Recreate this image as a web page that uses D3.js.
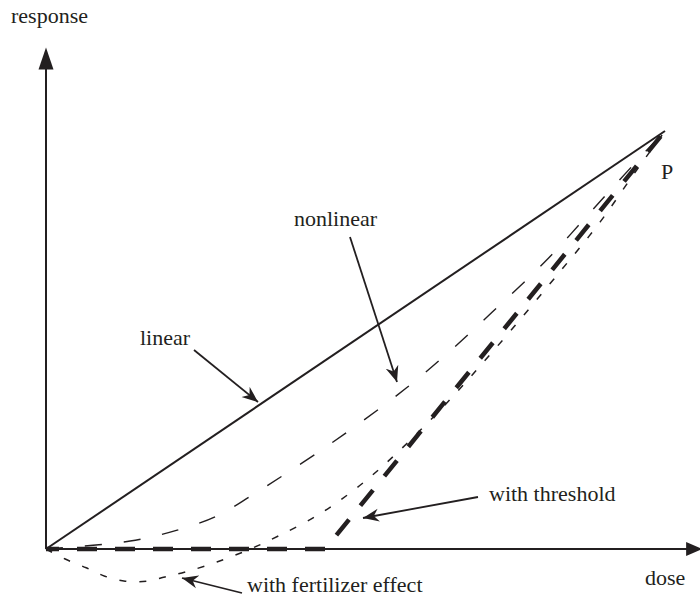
<!DOCTYPE html>
<html>
<head>
<meta charset="utf-8">
<script src="https://cdn.jsdelivr.net/npm/d3@7"></script>
<style>
  body { margin: 0; background: #fff; }
  svg { display: block; }
  text { font-family: "Liberation Serif", "Times New Roman", serif; font-size: 22px; fill: #231f20; }
</style>
</head>
<body>
<svg></svg>
<script>
// dose / response, scaled so that point P = (1, 1)
let linearDose = [0, 1]
let linearResponse = [0, 1]

let nonlinearDose = [0, 0.136, 0.212, 0.276, 0.331, 0.459, 0.582, 0.653, 0.721, 0.806, 0.890, 0.968, 1]
let nonlinearResponse = [0, 0.019, 0.045, 0.079, 0.127, 0.251, 0.385, 0.474, 0.567, 0.687, 0.823, 0.950, 1]

let thresholdDose = [0, 0.451, 1]
let thresholdResponse = [0, 0, 1]

let fertDose = [0, 0.031, 0.065, 0.095, 0.128, 0.162, 0.192, 0.225, 0.276, 0.330, 0.378, 0.439, 0.493, 0.546, 0.637, 0.725, 0.830, 0.895, 0.952, 1]
let fertResponse = [0, -0.024, -0.045, -0.065, -0.077, -0.077, -0.067, -0.055, -0.031, 0, 0.033, 0.081, 0.136, 0.201, 0.333, 0.478, 0.663, 0.782, 0.902, 1]

let axisMaxDose = 1.06
let axisMaxResponse = 1.2

let width = 700
let height = 607

let svg = d3.select('svg').attr('width', width).attr('height', height)

let xScale = d3.scaleLinear().domain([0, 1]).range([46, 665])
let yScale = d3.scaleLinear().domain([0, 1]).range([549, 131])

let toPoints = (xs, ys) => xs.map((d, i) => [d, ys[i]])

let defs = svg.append('defs')

defs.append('marker')
  .attr('id', 'head')
  .attr('markerUnits', 'userSpaceOnUse')
  .attr('viewBox', '-16 -7 17 14')
  .attr('markerWidth', 17)
  .attr('markerHeight', 14)
  .attr('refX', 0)
  .attr('refY', 0)
  .attr('orient', 'auto')
  .append('path')
  .attr('d', 'M0,0 L-16,-6.5 L-11,0 L-16,6.5 Z')
  .attr('fill', '#231f20')

let drawAxes = () => {
  let ink = '#231f20'
  svg.append('line')
    .attr('x1', xScale(0)).attr('y1', yScale(0))
    .attr('x2', xScale(axisMaxDose)).attr('y2', yScale(0))
    .attr('stroke', ink).attr('stroke-width', 2)

  svg.append('line')
    .attr('x1', xScale(0)).attr('y1', yScale(0))
    .attr('x2', xScale(0)).attr('y2', yScale(axisMaxResponse) + 10)
    .attr('stroke', ink).attr('stroke-width', 2)

  // arrow heads
  let tipY = yScale(axisMaxResponse)
  let cx = xScale(0)
  svg.append('path')
    .attr('d', `M${cx},${tipY} L${cx - 7.5},${tipY + 22} L${cx + 7.5},${tipY + 22} Z`)
    .attr('fill', ink)

  let tipX = xScale(axisMaxDose)
  let cy = yScale(0)
  svg.append('path')
    .attr('d', `M${tipX},${cy} L${tipX - 16},${cy - 7} L${tipX - 16},${cy + 7} Z`)
    .attr('fill', ink)

  svg.append('text').attr('x', 11).attr('y', 23).text('response')
  svg.append('text').attr('x', 645).attr('y', 585).text('dose')
}

let drawCurves = () => {
  let line = d3.line()
    .x(d => xScale(d[0]))
    .y(d => yScale(d[1]))

  let smooth = d3.line()
    .x(d => xScale(d[0]))
    .y(d => yScale(d[1]))
    .curve(d3.curveCatmullRom.alpha(0.5))

  svg.append('path')
    .datum(toPoints(nonlinearDose, nonlinearResponse))
    .attr('d', smooth)
    .attr('fill', 'none')
    .attr('stroke', '#231f20')
    .attr('stroke-width', 1.4)
    .attr('stroke-dasharray', '17,22')

  svg.append('path')
    .datum(toPoints(fertDose, fertResponse))
    .attr('d', smooth)
    .attr('fill', 'none')
    .attr('stroke', '#231f20')
    .attr('stroke-width', 1.5)
    .attr('stroke-dasharray', '7,13')

  svg.append('path')
    .datum(toPoints(thresholdDose, thresholdResponse))
    .attr('d', line)
    .attr('fill', 'none')
    .attr('stroke', '#231f20')
    .attr('stroke-width', 4.5)
    .attr('stroke-dasharray', '20,18')
    .attr('stroke-dashoffset', 7)

  svg.append('path')
    .datum(toPoints(linearDose, linearResponse))
    .attr('d', line)
    .attr('fill', 'none')
    .attr('stroke', '#231f20')
    .attr('stroke-width', 2)

  svg.append('text').attr('x', 661).attr('y', 179).text('P')
}

let labels = [
  { text: 'linear', x: 140, y: 345, from: [194, 350], to: [258, 402] },
  { text: 'nonlinear', x: 294, y: 226, from: [350, 237], to: [397, 382] },
  { text: 'with threshold', x: 489, y: 501, from: [478, 497], to: [363, 518] },
  { text: 'with fertilizer effect', x: 247, y: 592, from: [242, 593], to: [182, 578] }
]

let drawLabels = () => {
  labels.forEach(l => {
    svg.append('line')
      .attr('x1', l.from[0]).attr('y1', l.from[1])
      .attr('x2', l.to[0]).attr('y2', l.to[1])
      .attr('stroke', '#231f20')
      .attr('stroke-width', 1.8)
      .attr('marker-end', 'url(#head)')
    svg.append('text').attr('x', l.x).attr('y', l.y).text(l.text)
  })
}

drawAxes()
drawCurves()
drawLabels()
</script>
</body>
</html>
